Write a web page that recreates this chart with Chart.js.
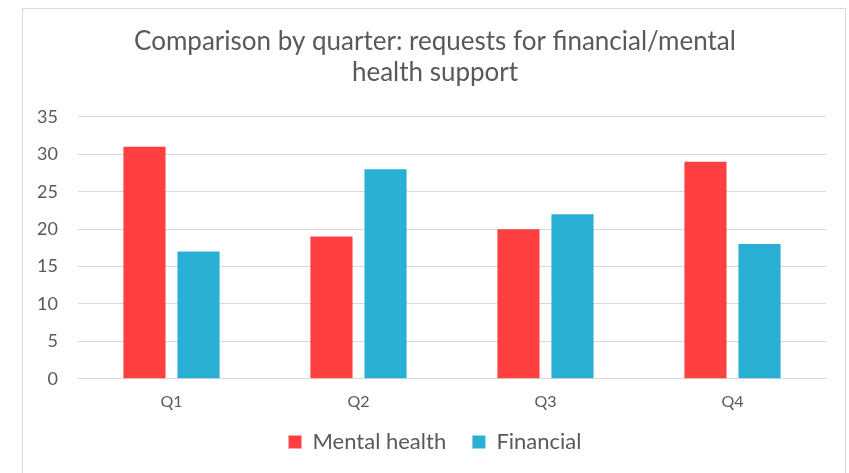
<!DOCTYPE html>
<html>
<head>
<meta charset="utf-8">
<title>Requests by quarter</title>
<script src="https://cdn.jsdelivr.net/npm/chart.js@4.4.1/dist/chart.umd.min.js"></script>
<style>
  html, body { margin: 0; padding: 0; background: #fff; overflow: hidden; }
  #frame {
    position: absolute; left: 22px; top: 8px; width: 824px; height: 490px;
    border: 1px solid #d9d9d9; box-sizing: border-box;
  }
  #wrap { position: absolute; left: 0; top: 0; width: 849px; height: 473px; }
</style>
</head>
<body>
<div id="frame"></div>
<div id="wrap"><canvas id="chart"></canvas></div>
<script>
const quarters = ["Q1", "Q2", "Q3", "Q4"];
const mentalHealth = [31, 19, 20, 29];
const financial = [17, 28, 22, 18];
const titleLines = ["Comparison by quarter: requests for financial/mental", "health support"];

const fontFamily = "Lato, 'Open Sans', sans-serif";
const grey = "#595959";

new Chart(document.getElementById("chart"), {
  type: "bar",
  data: {
    labels: quarters,
    datasets: [
      { label: "Mental health", data: mentalHealth, backgroundColor: "#ff4040" },
      { label: "Financial", data: financial, backgroundColor: "#2ab0d5" },
    ],
  },
  options: {
    responsive: true,
    maintainAspectRatio: false,
    animation: false,
    layout: { padding: { left: 30, right: 9, top: 26, bottom: 10 } },
    datasets: { bar: { categoryPercentage: 0.578, barPercentage: 0.78 } },
    plugins: {
      title: {
        display: true,
        text: titleLines,
        color: grey,
        font: { family: fontFamily, size: 26, weight: "normal", lineHeight: 1.19 },
        padding: { top: 0, bottom: 29 },
      },
      legend: {
        position: "bottom",
        labels: {
          color: grey,
          font: { family: fontFamily, size: 22 },
          boxWidth: 13, boxHeight: 13, padding: 15,
          // wider gap between the two legend entries without adding height
          generateLabels: (chart) => {
            const items = Chart.defaults.plugins.legend.labels.generateLabels(chart);
            items.slice(0, -1).forEach((item) => { item.text += "  "; });
            return items;
          },
        },
      },
      tooltip: { enabled: false },
    },
    scales: {
      x: {
        grid: { display: false },
        border: { color: "#d9d9d9" },
        ticks: { color: grey, font: { family: fontFamily, size: 16 }, padding: 5 },
      },
      y: {
        min: 0, max: 35,
        ticks: { stepSize: 5, color: grey, font: { family: fontFamily, size: 18 }, padding: 20 },
        grid: { color: "#d9d9d9", drawTicks: false },
        border: { display: false },
        afterFit: (scale) => { scale.width = 48; },
      },
      // empty strip on the right so the title and legend sit centred in the frame
      spacer: {
        position: "right",
        grid: { display: false },
        border: { display: false },
        ticks: { display: false },
        afterFit: (scale) => { scale.width = 14; },
      },
    },
  },
});
</script>
</body>
</html>
